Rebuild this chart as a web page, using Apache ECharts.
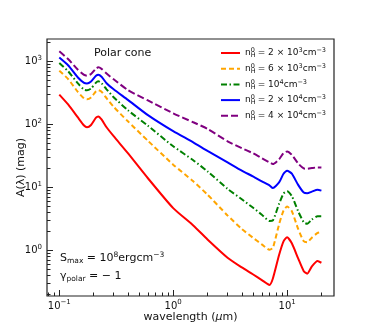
<!DOCTYPE html>
<html>
<head>
<meta charset="utf-8">
<script src="https://cdn.jsdelivr.net/npm/echarts@6/dist/echarts.min.js"></script>
<style>
  html, body { margin: 0; padding: 0; background: #fff; }
  #chart { width: 374px; height: 334px; }
</style>
</head>
<body>
<div id="chart"></div>
<script>
  // wavelength grid (micron), shared by all curves
  var wavelength = [0.1, 0.12, 0.145, 0.165, 0.175, 0.19, 0.21, 0.22, 0.235, 0.26, 0.3, 0.4, 0.6, 1,
    1.5, 2, 3, 4, 5, 6, 7, 7.5, 8.5, 9.3, 10, 11, 12.5, 14, 15, 16.5, 18.5, 20];

  // A(lambda) in mag
  var aN2e3 = [296, 205, 130, 96, 90, 98, 128, 134, 120, 90, 65, 35, 14, 4.7,
    2.5, 1.5, 0.77, 0.54, 0.42, 0.34, 0.285, 0.36, 0.85, 1.4, 1.62, 1.3, 0.75, 0.47, 0.43, 0.56, 0.68, 0.64];
  var aN6e3 = [711, 520, 330, 258, 250, 268, 335, 350, 330, 260, 190, 112, 55, 23,
    12.5, 7.7, 3.6, 2.2, 1.6, 1.25, 1.03, 1.1, 2.6, 4.3, 5.0, 4.2, 2.2, 1.4, 1.35, 1.6, 1.9, 1.95];
  var aN1e4 = [942, 690, 450, 355, 347, 370, 460, 482, 450, 360, 270, 168, 95, 45,
    27, 18, 9.5, 6.5, 4.8, 3.7, 2.95, 3.0, 5.5, 8, 8.7, 7.3, 4.2, 2.8, 2.65, 3.1, 3.5, 3.5];
  var aN2e4 = [1150, 860, 560, 455, 445, 480, 590, 614, 570, 450, 360, 245, 140, 78,
    52, 38, 25, 18.5, 15, 12.5, 10.8, 9.8, 12, 16.5, 18.4, 16.5, 11, 8.3, 8.1, 8.6, 9.2, 8.9];
  var aN4e4 = [1443, 1080, 740, 610, 593, 630, 770, 803, 760, 640, 520, 350, 240, 150,
    108, 85, 54, 42, 35, 29, 25, 23.5, 28, 35, 37.3, 33, 24, 20, 19.8, 20.3, 20.8, 20.7];

  var seriesNames = ['n2e3', 'n6e3', 'n1e4', 'n2e4', 'n4e4'];
  var legendTexts = [
    '{n|n}{sb|H}{sp|0}{n| = 2 × 10}{sp|3}{n|cm}{sp|−3}',
    '{n|n}{sb|H}{sp|0}{n| = 6 × 10}{sp|3}{n|cm}{sp|−3}',
    '{n|n}{sb|H}{sp|0}{n| = 10}{sp|4}{n|cm}{sp|−3}',
    '{n|n}{sb|H}{sp|0}{n| = 2 × 10}{sp|4}{n|cm}{sp|−3}',
    '{n|n}{sb|H}{sp|0}{n| = 4 × 10}{sp|4}{n|cm}{sp|−3}'
  ];

  var xMajor = [0.1, 1, 10];
  var yMajor = [1, 10, 100, 1000];

  var xMin = 0.078, xMax = 25.8;
  var yMin = 0.19, yMax = 2260;

  function minorTicks(lo, hi) {
    var out = [];
    for (var e = -3; e <= 4; e++) {
      for (var k = 2; k <= 9; k++) {
        var v = k * Math.pow(10, e);
        if (v > lo && v < hi) out.push(+v.toPrecision(3));
      }
    }
    return out;
  }
  var xMinor = minorTicks(xMin, xMax);
  var yMinor = minorTicks(yMin, yMax);

  function pairs(vals) {
    return wavelength.map(function (w, i) { return [w, vals[i]]; });
  }

  function powLabel(v) {
    var e = Math.round(Math.log10(v));
    return '{b|10}{s|' + (e < 0 ? '−' + (-e) : e) + '}';
  }

  var labelRich = {
    b: { fontSize: 10, fontFamily: 'DejaVu Sans', color: '#111', lineHeight: 14 },
    s: { fontSize: 7, fontFamily: 'DejaVu Sans', color: '#111', verticalAlign: 'top', lineHeight: 8 }
  };

  var font = 'DejaVu Sans';
  var chart = echarts.init(document.getElementById('chart'));

  var lines = [
    { name: seriesNames[0], data: aN2e3, color: '#ff0000', type: 'solid' },
    { name: seriesNames[1], data: aN6e3, color: '#ffa500', type: [5, 3] },
    { name: seriesNames[2], data: aN1e4, color: '#008000', type: [6, 2.5, 1.5, 2.5] },
    { name: seriesNames[3], data: aN2e4, color: '#0000ff', type: 'solid' },
    { name: seriesNames[4], data: aN4e4, color: '#800080', type: [7, 3] }
  ];

  var option = {
    animation: false,
    grid: {
      left: 47, top: 39, width: 287, height: 257,
      show: true, borderColor: '#222', borderWidth: 1.2, backgroundColor: 'transparent'
    },
    legend: {
      orient: 'vertical',
      left: 220, top: 47, padding: 0,
      itemWidth: 19, itemHeight: 12, itemGap: 3.7,
      itemStyle: { opacity: 0, borderWidth: 0 },
      data: seriesNames,
      formatter: function (name) { return legendTexts[seriesNames.indexOf(name)]; },
      textStyle: {
        rich: {
          n: { fontSize: 9, fontFamily: font, color: '#111', lineHeight: 12 },
          sb: { fontSize: 6.5, fontFamily: font, color: '#111', verticalAlign: 'bottom', lineHeight: 6, width: 0.01 },
          sp: { fontSize: 6.5, fontFamily: font, color: '#111', verticalAlign: 'top', lineHeight: 6 }
        }
      }
    },
    xAxis: [{
      type: 'log', min: xMin, max: xMax, position: 'bottom',
      axisLine: { show: false }, splitLine: { show: false },
      axisTick: { inside: true, length: 6, customValues: xMajor, lineStyle: { color: '#222', width: 1 } },
      axisLabel: { customValues: xMajor, formatter: powLabel, rich: labelRich, margin: 3 },
      name: 'wavelength ({it|μ}m)', nameLocation: 'middle', nameGap: 16, nameMoveOverlap: false,
      nameTextStyle: {
        fontSize: 11, fontFamily: font, color: '#111',
        rich: { it: { fontSize: 11, fontFamily: font, fontStyle: 'italic', color: '#111' } }
      }
    }, {
      type: 'log', min: xMin, max: xMax, position: 'bottom',
      axisLine: { show: false }, splitLine: { show: false },
      axisTick: { inside: true, length: 3.5, customValues: xMinor, lineStyle: { color: '#222', width: 1 } },
      axisLabel: { show: false }
    }],
    yAxis: [{
      type: 'log', min: yMin, max: yMax, position: 'left',
      axisLine: { show: false }, splitLine: { show: false },
      axisTick: { inside: true, length: 6, customValues: yMajor, lineStyle: { color: '#222', width: 1 } },
      axisLabel: { customValues: yMajor, formatter: powLabel, rich: labelRich, margin: 5 },
      name: 'A(λ) (mag)', nameLocation: 'middle', nameGap: 20, nameMoveOverlap: false,
      nameTextStyle: { fontSize: 11, fontFamily: font, color: '#111' }
    }, {
      type: 'log', min: yMin, max: yMax, position: 'left',
      axisLine: { show: false }, splitLine: { show: false },
      axisTick: { inside: true, length: 3.5, customValues: yMinor, lineStyle: { color: '#222', width: 1 } },
      axisLabel: { show: false }
    }],
    series: lines.map(function (l) {
      return {
        name: l.name, type: 'line', xAxisIndex: 0, yAxisIndex: 0,
        data: pairs(l.data), showSymbol: false, symbol: 'none', smooth: 0.2,
        lineStyle: { color: l.color, width: 2, type: l.type },
        itemStyle: { color: l.color }
      };
    }),
    graphic: [{
      type: 'text', left: 94, top: 48,
      style: { text: 'Polar cone', fontSize: 11, fontFamily: font, fill: '#111' }
    }, {
      type: 'text', left: 60, top: 251,
      style: {
        text: '{n|S}{sb|max}{n| = 10}{sp|8}{n|ergcm}{sp|−3}',
        rich: {
          n: { fontSize: 11, fontFamily: font, fill: '#111', lineHeight: 14 },
          sb: { fontSize: 7.5, fontFamily: font, fill: '#111', verticalAlign: 'bottom', lineHeight: 7 },
          sp: { fontSize: 7.5, fontFamily: font, fill: '#111', verticalAlign: 'top', lineHeight: 7 }
        }
      }
    }, {
      type: 'text', left: 60, top: 271,
      style: {
        text: '{n|γ}{sb|polar}{n| = − 1}',
        rich: {
          n: { fontSize: 11, fontFamily: font, fill: '#111', lineHeight: 14 },
          sb: { fontSize: 7.5, fontFamily: font, fill: '#111', verticalAlign: 'bottom', lineHeight: 7 }
        }
      }
    }]
  };

  chart.setOption(option);
</script>
</body>
</html>
